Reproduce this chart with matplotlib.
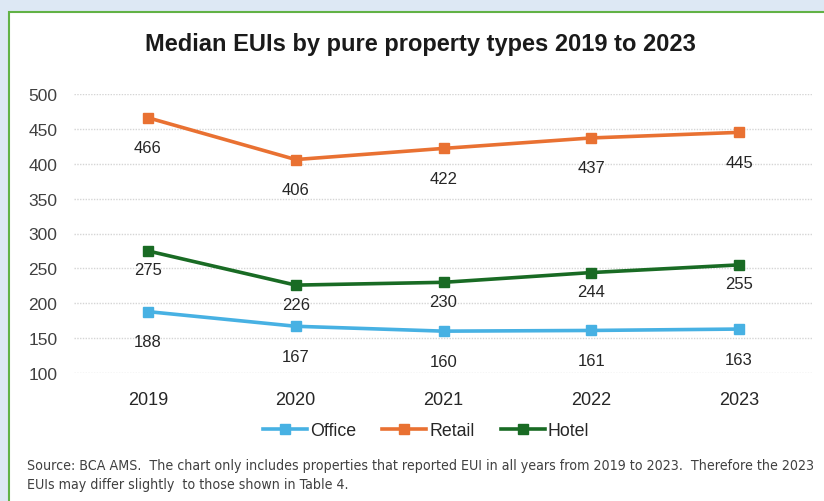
import matplotlib
matplotlib.use("Agg")
import matplotlib.pyplot as plt
from matplotlib.patches import Rectangle

years = ["2019", "2020", "2021", "2022", "2023"]
office = [188, 167, 160, 161, 163]
retail = [466, 406, 422, 437, 445]
hotel = [275, 226, 230, 244, 255]
series_names = ["Office", "Retail", "Hotel"]
y_ticks = [100, 150, 200, 250, 300, 350, 400, 450, 500]

colors = {"Office": "#47B1E3", "Retail": "#E97132", "Hotel": "#196B24"}
label_offsets_px = {"Office": -30, "Retail": -30, "Hotel": -19}

W, H = 824, 502
fig = plt.figure(figsize=(W / 100, H / 100), dpi=100)
fig.patch.set_facecolor("#DDE8F4")

# white chart box with green border
box = Rectangle((9 / W, -0.05), 1.1, 1 - 13 / H + 0.05, transform=fig.transFigure,
                facecolor="white", edgecolor="#62B246", linewidth=1.5, zorder=0)
fig.add_artist(box)

ax = fig.add_axes([74 / W, 1 - 374 / H, (813 - 74) / W, (374 - 95) / H])
ax.set_facecolor("none")
x = list(range(len(years)))
data = {"Office": office, "Retail": retail, "Hotel": hotel}
for name in series_names:
    vals = data[name]
    ax.plot(x, vals, color=colors[name], lw=2.6, marker="s", markersize=7,
            label=name, zorder=3)
    for xi, v in zip(x, vals):
        ax.annotate(str(v), (xi, v), xytext=(0, label_offsets_px[name]),
                    textcoords="offset pixels", ha="center", va="center",
                    fontsize=12, color="#262626", family="Liberation Sans", zorder=4)

ax.set_xlim(-0.5, len(years) - 0.5)
ax.set_ylim(100, 500)
ax.set_yticks(y_ticks)
ax.set_xticks(x)
ax.set_xticklabels(years, family="Liberation Sans", fontsize=13, color="#262626")
ax.tick_params(axis="x", length=0, pad=13)
ax.tick_params(axis="y", length=0, pad=12)
for lab in ax.get_yticklabels():
    lab.set_family("Liberation Sans")
    lab.set_fontsize(12.5)
    lab.set_color("#404040")
ax.grid(axis="y", color="#D5D5D5", linestyle=(0, (1, 1)), linewidth=1)
for s in ax.spines.values():
    s.set_visible(False)

fig.text(420 / W, 1 - 45 / H, "Median EUIs by pure property types 2019 to 2023",
         ha="center", va="center", fontsize=17, fontweight="bold",
         family="Liberation Sans", color="#1a1a1a")

leg = fig.legend(loc="center", bbox_to_anchor=(426 / W, 1 - 432 / H), ncol=3,
                 frameon=False, handlelength=2.5, columnspacing=1.45, handletextpad=0.17,
                 prop={"family": "Liberation Sans", "size": 12.8})
for t in leg.get_texts():
    t.set_color("#262626")

src_font = dict(family="DejaVu Sans", fontstretch="condensed", fontsize=10.15, color="#404040")
fig.text(27 / W, 1 - 466 / H,
         "Source: BCA AMS.  The chart only includes properties that reported EUI in all years from 2019 to 2023.  Therefore the 2023",
         ha="left", va="center", **src_font)
fig.text(27 / W, 1 - 485 / H,
         "EUIs may differ slightly  to those shown in Table 4.",
         ha="left", va="center", **src_font)

fig.savefig("out.png", dpi=100, facecolor=fig.get_facecolor())
